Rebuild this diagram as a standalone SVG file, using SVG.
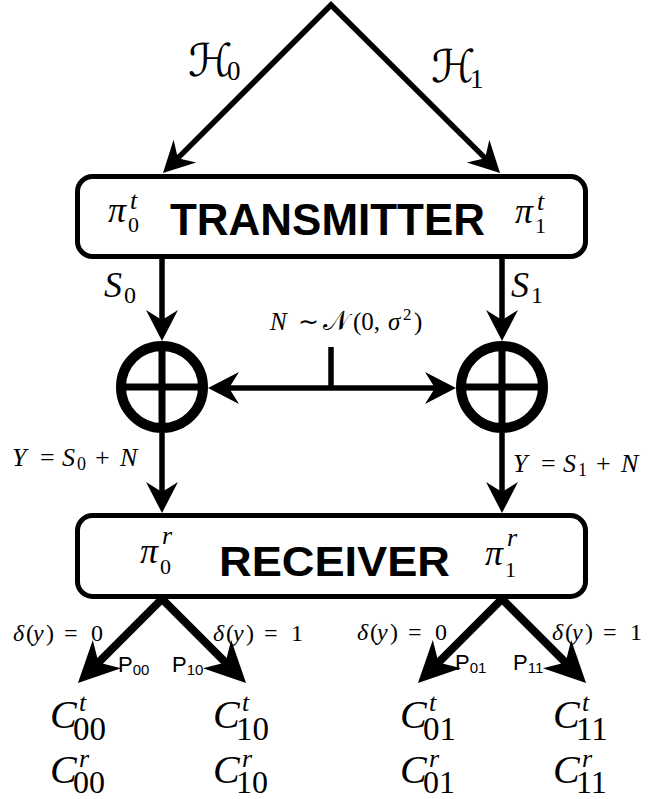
<svg xmlns="http://www.w3.org/2000/svg" width="652" height="799" viewBox="0 0 652 799">
<style>
.ln{fill:none;stroke:#000;stroke-width:5.5;stroke-linejoin:miter;stroke-miterlimit:10}
.thick{fill:none;stroke:#000;stroke-width:8;stroke-linejoin:miter;stroke-miterlimit:10}
.box{fill:#fff;stroke:#000;stroke-width:5}
.ring{fill:#fff;stroke:#000;stroke-width:10}
.cross{stroke:#000;stroke-width:7}
.m{font-family:"Liberation Serif",serif;font-style:italic;fill:#000}
.r{font-family:"Liberation Serif",serif;font-style:normal;fill:#000}
.cal{font-family:"DejaVu Sans","DejaVu Serif",serif;font-style:normal;fill:#000}
.title{font-family:"Liberation Sans",Arial,sans-serif;font-weight:bold;fill:#000}
.p{font-family:"Liberation Sans",Arial,sans-serif;fill:#000}
</style>
<defs>
<marker id="ah" viewBox="-25 -20 50 40" markerWidth="50" markerHeight="40" refX="0" refY="0" orient="auto-start-reverse" markerUnits="userSpaceOnUse" overflow="visible">
<path d="M15,0 L-16,-16 L-6,0 L-16,16 Z" fill="#000"/>
</marker>
<marker id="ahb" viewBox="-30 -25 60 50" markerWidth="60" markerHeight="50" refX="0" refY="0" orient="auto-start-reverse" markerUnits="userSpaceOnUse" overflow="visible">
<path d="M20,0 L-21,-20 L-9,0 L-21,20 Z" fill="#000"/>
</marker>
</defs>

<g id="connectors">
<path class="ln" d="M173.6,162.4 L331,5 L489.4,162.4" marker-start="url(#ah)" marker-end="url(#ah)"/>
<path class="ln" d="M162,259 L162,326" marker-end="url(#ah)"/>
<path class="ln" d="M502,259 L502,326" marker-end="url(#ah)"/>
<path class="ln" d="M223,388 L441,388" marker-start="url(#ah)" marker-end="url(#ah)"/>
<path class="ln" d="M331,347 L331,388"/>
<path class="ln" d="M162,433 L162,498" marker-end="url(#ah)"/>
<path class="ln" d="M502,433 L502,498" marker-end="url(#ah)"/>
<path class="thick" d="M92.1,668.9 L162,599 L231.9,668.9" marker-start="url(#ahb)" marker-end="url(#ahb)"/>
<path class="thick" d="M432.1,668.9 L502,599 L571.9,668.9" marker-start="url(#ahb)" marker-end="url(#ahb)"/>
</g>

<g id="labels">
<text y="76" class="r" font-size="27"><tspan x="188" class="cal" font-size="45">ℋ</tspan><tspan x="227" dy="4">0</tspan></text>
<text y="82" class="r" font-size="27"><tspan x="431" class="cal" font-size="45">ℋ</tspan><tspan x="470" dy="6">1</tspan></text>

<text y="297" class="r" font-size="24"><tspan x="104" class="m" font-size="36">S</tspan><tspan x="124" dy="6">0</tspan></text>
<text y="297" class="r" font-size="24"><tspan x="511" class="m" font-size="36">S</tspan><tspan x="531" dy="6">1</tspan></text>

<text y="330" class="r" font-size="25"><tspan x="270" class="m">N</tspan><tspan x="298">∼</tspan><tspan x="323" class="cal" font-size="27">𝒩</tspan><tspan x="353">(0,</tspan><tspan x="388" class="m">σ</tspan><tspan x="403" font-size="17" dy="-10">2</tspan><tspan x="414" dy="10">)</tspan></text>

<text y="466" class="r" font-size="26"><tspan x="12" class="m">Y</tspan><tspan x="40">=</tspan><tspan x="62" class="m">S</tspan><tspan x="77" font-size="18" dy="4">0</tspan><tspan x="95" dy="-4">+</tspan><tspan x="120" class="m">N</tspan></text>
<text y="472" class="r" font-size="26"><tspan x="513" class="m">Y</tspan><tspan x="541">=</tspan><tspan x="563" class="m">S</tspan><tspan x="578" font-size="18" dy="4">1</tspan><tspan x="596" dy="-4">+</tspan><tspan x="621" class="m">N</tspan></text>

<text y="641" class="r" font-size="24"><tspan x="13" class="m">δ</tspan><tspan x="26">(</tspan><tspan x="33" class="m">y</tspan><tspan x="46">)</tspan><tspan x="64">=</tspan><tspan x="91">0</tspan></text>
<text y="641" class="r" font-size="24"><tspan x="213" class="m">δ</tspan><tspan x="226">(</tspan><tspan x="233" class="m">y</tspan><tspan x="246">)</tspan><tspan x="264">=</tspan><tspan x="291">1</tspan></text>
<text y="640" class="r" font-size="24"><tspan x="357" class="m">δ</tspan><tspan x="370">(</tspan><tspan x="377" class="m">y</tspan><tspan x="390">)</tspan><tspan x="408">=</tspan><tspan x="435">0</tspan></text>
<text y="640" class="r" font-size="24"><tspan x="552" class="m">δ</tspan><tspan x="565">(</tspan><tspan x="572" class="m">y</tspan><tspan x="585">)</tspan><tspan x="603">=</tspan><tspan x="630">1</tspan></text>

<text x="118" y="672" class="p" font-size="22">P<tspan font-size="15" dy="3">00</tspan></text>
<text x="172" y="672" class="p" font-size="22">P<tspan font-size="15" dy="3">10</tspan></text>
<text x="455" y="670" class="p" font-size="22">P<tspan font-size="15" dy="3">01</tspan></text>
<text x="513" y="670" class="p" font-size="22">P<tspan font-size="15" dy="3">11</tspan></text>
</g>

<g id="costs">
<text y="728" class="r" font-size="33"><tspan x="50" class="m" font-size="40">C</tspan><tspan x="79" class="m" font-size="26" dy="-17">t</tspan><tspan x="73" dy="29">00</tspan></text>
<text y="783" class="r" font-size="32"><tspan x="50" class="m" font-size="40">C</tspan><tspan x="79" class="m" font-size="26" dy="-16">r</tspan><tspan x="73" dy="26">00</tspan></text>
<text y="728" class="r" font-size="33"><tspan x="213" class="m" font-size="40">C</tspan><tspan x="242" class="m" font-size="26" dy="-17">t</tspan><tspan x="236" dy="29">10</tspan></text>
<text y="783" class="r" font-size="32"><tspan x="213" class="m" font-size="40">C</tspan><tspan x="242" class="m" font-size="26" dy="-16">r</tspan><tspan x="236" dy="26">10</tspan></text>
<text y="728" class="r" font-size="33"><tspan x="400" class="m" font-size="40">C</tspan><tspan x="429" class="m" font-size="26" dy="-17">t</tspan><tspan x="423" dy="29">01</tspan></text>
<text y="783" class="r" font-size="32"><tspan x="400" class="m" font-size="40">C</tspan><tspan x="429" class="m" font-size="26" dy="-16">r</tspan><tspan x="423" dy="26">01</tspan></text>
<text y="728" class="r" font-size="33"><tspan x="553" class="m" font-size="40">C</tspan><tspan x="582" class="m" font-size="26" dy="-17">t</tspan><tspan x="576" dy="29">11</tspan></text>
<text y="783" class="r" font-size="32"><tspan x="553" class="m" font-size="40">C</tspan><tspan x="582" class="m" font-size="26" dy="-16">r</tspan><tspan x="576" dy="26">11</tspan></text>
</g>

<g id="transmitter">
<rect x="77.5" y="176.5" width="508" height="80" rx="15" class="box"/>
<text y="222" class="r" font-size="22"><tspan x="108" class="m" font-size="36">π</tspan><tspan x="130" class="m" font-size="26" dy="-13">t</tspan><tspan x="128" dy="23">0</tspan></text>
<text x="170" y="235" class="title" font-size="45" textLength="315" lengthAdjust="spacingAndGlyphs">TRANSMITTER</text>
<text y="223" class="r" font-size="22"><tspan x="515" class="m" font-size="36">π</tspan><tspan x="537" class="m" font-size="26" dy="-13">t</tspan><tspan x="535" dy="23">1</tspan></text>
</g>

<g id="adder-left">
<circle cx="162" cy="387" r="41" class="ring"/>
<line x1="121" y1="387" x2="203" y2="387" class="cross"/>
<line x1="162" y1="346" x2="162" y2="428" class="cross"/>
</g>
<g id="adder-right">
<circle cx="502" cy="387" r="41" class="ring"/>
<line x1="461" y1="387" x2="543" y2="387" class="cross"/>
<line x1="502" y1="346" x2="502" y2="428" class="cross"/>
</g>

<g id="receiver">
<rect x="77.5" y="515.5" width="508" height="81" rx="15" class="box"/>
<text y="563" class="r" font-size="22"><tspan x="140" class="m" font-size="36">π</tspan><tspan x="162" class="m" font-size="26" dy="-19">r</tspan><tspan x="160" dy="30">0</tspan></text>
<text x="219" y="576" class="title" font-size="42" textLength="231" lengthAdjust="spacingAndGlyphs">RECEIVER</text>
<text y="565" class="r" font-size="22"><tspan x="485" class="m" font-size="36">π</tspan><tspan x="507" class="m" font-size="26" dy="-19">r</tspan><tspan x="505" dy="31">1</tspan></text>
</g>
</svg>
